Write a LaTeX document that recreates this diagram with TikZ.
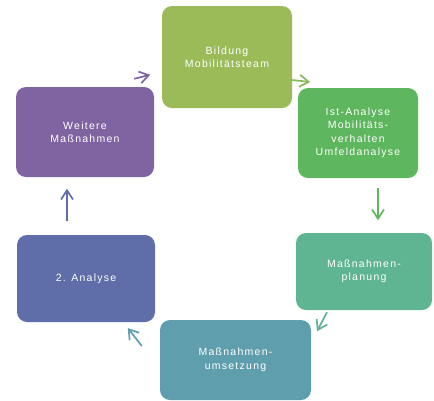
\documentclass[tikz,border=0pt]{standalone}
\usepackage{fontspec}
\setmainfont{Liberation Sans}[LetterSpace=12]
\usetikzlibrary{arrows.meta}

\definecolor{cBildung}{HTML}{9BBB59}
\definecolor{cIst}{HTML}{5EB65E}
\definecolor{cPlanung}{HTML}{5FB491}
\definecolor{cUmsetz}{HTML}{5F9EAD}
\definecolor{cAnalyse}{HTML}{5F6EA8}
\definecolor{cWeitere}{HTML}{8064A2}

\begin{document}
\begin{tikzpicture}[
  x=1pt, y=-1pt,
  box/.style={rounded corners=10pt, align=center, text=white, font=\fontsize{10.5}{13.5}\selectfont, inner sep=2pt},
  arrow/.style={-{Straight Barb[length=3.2mm, width=4.2mm]}, line width=1.7pt}
]
\useasboundingbox (0,0) rectangle (434,400);

\node[box, fill=cBildung, minimum width=130pt, minimum height=102pt] (bildung) at (227,57) {Bildung\\ Mobilitätsteam};
\node[box, fill=cIst, minimum width=120pt, minimum height=90pt] (ist) at (358,133) {Ist-Analyse\\ Mobilitäts-\\ verhalten\\ Umfeldanalyse};
\node[box, fill=cPlanung, minimum width=136pt, minimum height=77pt] (planung) at (364,271.5) {Maßnahmen-\\ planung};
\node[box, fill=cUmsetz, minimum width=151pt, minimum height=80pt] (umsetzung) at (235.5,360) {Maßnahmen-\\ umsetzung};
\node[box, fill=cAnalyse, minimum width=138pt, minimum height=87pt] (analyse) at (86,278.5) {2. Analyse};
\node[box, fill=cWeitere, minimum width=138pt, minimum height=90pt] (weitere) at (85,132) {Weitere\\ Maßnahmen};

\draw[arrow, cBildung!70!cIst] ([yshift=-23pt]bildung.east) -- ++(18,2);
\draw[arrow, cIst] ([shift={(20pt,-10pt)}]ist.south) -- ++(0,32);
\draw[arrow, cPlanung!80!cUmsetz] ([shift={(-37pt,-2pt)}]planung.south) -- ++(-10,19);
\draw[arrow, cUmsetz] ([shift={(-18pt,14pt)}]umsetzung.west) -- ++(-14,-18);
\draw[arrow, cAnalyse] ([shift={(-19pt,14pt)}]analyse.north) -- ++(0,-32);
\draw[arrow, cWeitere] ([shift={(-20pt,8pt)}]weitere.north east) -- ++(16,-4);
\end{tikzpicture}
\end{document}
